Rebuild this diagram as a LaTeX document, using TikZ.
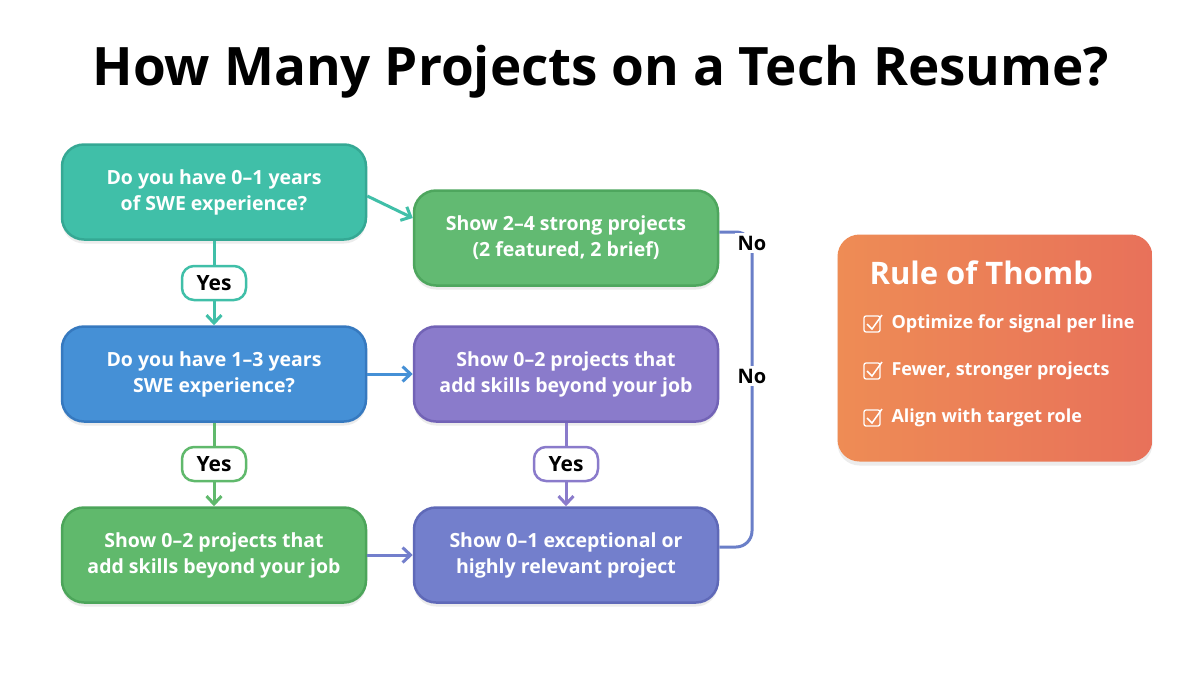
\documentclass[tikz,border=0pt]{standalone}
\usepackage{fontspec}
\setmainfont{Open Sans}
\usetikzlibrary{arrows.meta,shadows}
\definecolor{cA}{HTML}{40BFA8}\definecolor{cAd}{HTML}{35A894}
\definecolor{cB}{HTML}{62BA72}\definecolor{cBd}{HTML}{4EA65E}
\definecolor{cC}{HTML}{4590D6}\definecolor{cCd}{HTML}{3679BF}
\definecolor{cD}{HTML}{8A7BCB}\definecolor{cDd}{HTML}{7263B6}
\definecolor{cE}{HTML}{60B96C}\definecolor{cEd}{HTML}{4CA55A}
\definecolor{cF}{HTML}{737FCC}\definecolor{cFd}{HTML}{5F69B8}
\definecolor{cR1}{HTML}{EE8C55}\definecolor{cR2}{HTML}{E8715A}
\definecolor{ln}{HTML}{6A7FC8}
\begin{document}
\begin{tikzpicture}[x=1pt,y=-1pt,
 box/.style={rounded corners=22pt,minimum width=304pt,minimum height=95pt,line width=2.5pt,
   text=white,font=\fontsize{19.5}{26}\selectfont\bfseries,align=center,
   drop shadow={shadow xshift=0pt,shadow yshift=-4pt,opacity=0.15}},
 yes/.style={rounded corners=12pt,fill=white,line width=2.5pt,minimum width=64pt,minimum height=34pt,font=\fontsize{21}{22}\selectfont\bfseries,inner sep=2pt},
 arr/.style={line width=3pt,-{Straight Barb[length=8pt,width=15pt,line width=3pt]}},
 nol/.style={fill=white,font=\fontsize{20}{22}\selectfont\bfseries,inner sep=3pt}]
\useasboundingbox (0,0) rectangle (1200,686);
\fill[white] (0,0) rectangle (1200,686);
\node[font=\fontsize{53}{60}\selectfont\bfseries] (title) at (601,72) {How Many Projects on a Tech Resume?};
\node[box,fill=cA,draw=cAd] (A) at (214,192) {Do you have 0--1 years\\of SWE experience?};
\node[box,fill=cB,draw=cBd] (B) at (566,238) {Show 2--4 strong projects\\(2 featured, 2 brief)};
\node[box,fill=cC,draw=cCd] (C) at (214,374) {Do you have 1--3 years\\SWE experience?};
\node[box,fill=cD,draw=cDd] (D) at (566,374) {Show 0--2 projects that\\add skills beyond your job};
\node[box,fill=cE,draw=cEd] (E) at (214,555) {Show 0--2 projects that\\add skills beyond your job};
\node[box,fill=cF,draw=cFd] (F) at (566,555) {Show 0--1 exceptional or\\highly relevant project};
\draw[arr,cA] (A.east |- 0,196) -- (B.west |- 0,218);
\draw[arr,cC] (C.east) -- (D.west);
\draw[arr,cF] (E.east) -- (F.west);
\draw[arr,cA] (A.south) -- (C.north);
\draw[arr,cE] (C.south) -- (E.north);
\draw[arr,cD] (D.south) -- (F.north);
\node[yes,draw=cA] (y1) at (214,283) {Yes};
\node[yes,draw=cE] (y2) at (214,464) {Yes};
\node[yes,draw=cD] (y3) at (566,464) {Yes};
\coordinate (c1) at (752,232);
\draw[line width=3pt,ln,rounded corners=16pt] (F.east |- 0,547) -| (c1) -- (B.east |- 0,232);
\node[nol] (n1) at (752,243) {No};
\node[nol] (n2) at (752,376) {No};
\node[rounded corners=22pt,minimum width=315pt,minimum height=227pt,left color=cR1,right color=cR2,
  drop shadow={shadow xshift=0pt,shadow yshift=-4pt,opacity=0.15}] (R) at (995,348) {};
\node[text=white,font=\fontsize{31}{34}\selectfont\bfseries,anchor=west] (rt) at (866,273) {Rule of Thomb};
\foreach \y/\t [count=\i] in {324/Optimize for signal per line,371/{Fewer, stronger projects},418/Align with target role}{
  \node[text=white,font=\fontsize{18}{20}\selectfont\bfseries,anchor=west] (it\i) at (888,\y) {\t};
  \draw[white,line width=1.3pt,rounded corners=2pt] (864,\y-8) rectangle (880,\y+8);
  \draw[white,line width=1.5pt] (867,\y) -- (872,\y+5) -- (882,\y-9);
}
\end{tikzpicture}
\end{document}
